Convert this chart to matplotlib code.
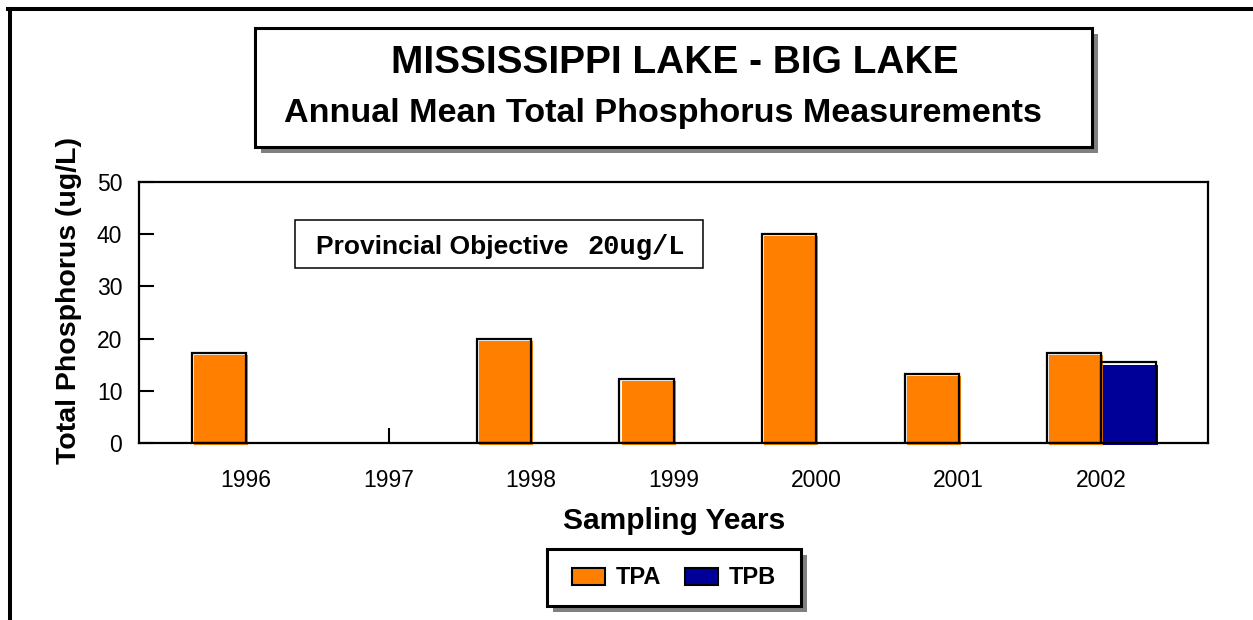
import numpy as np
import matplotlib
matplotlib.use("Agg")
import matplotlib.pyplot as plt
from matplotlib.patches import Rectangle, Patch
from matplotlib.lines import Line2D
from matplotlib.transforms import ScaledTranslation

plt.rcParams['font.family'] = ['Liberation Sans', 'DejaVu Sans']

# data
years = ['1996', '1997', '1998', '1999', '2000', '2001', '2002']
tpa = [17.2, np.nan, 20.0, 12.2, 40.0, 13.2, 17.2]
tpb = [np.nan, np.nan, np.nan, np.nan, np.nan, np.nan, 15.4]
series_names = ['TPA', 'TPB']

ORANGE = '#FF8000'
BLUE = '#000099'
SHADOW = '#808080'

W, H = 1253, 620

def fx(px):
    return px / W

def fy(py):
    return 1 - py / H

def box_with_shadow(x0, y0, x1, y1, lw, off=6, z=1):
    # pixel coords, top-left origin
    fig.add_artist(Rectangle((fx(x0 + off), fy(y1 + off)), (x1 - x0) / W, (y1 - y0) / H,
                             transform=fig.transFigure, fc=SHADOW, ec='none', zorder=z))
    fig.add_artist(Rectangle((fx(x0), fy(y1)), (x1 - x0) / W, (y1 - y0) / H,
                             transform=fig.transFigure, fc='white', ec='black', lw=lw,
                             zorder=z + 1))

fig = plt.figure(figsize=(W / 100, H / 100), dpi=100)
ax = fig.add_axes([fx(139), fy(442.7), (1208.3 - 139) / W, (442.7 - 182.3) / H])

x = np.arange(len(years))
bw = 0.38
# fill is slightly misregistered (right/down) from the outline, like the original
shift = ax.transData + ScaledTranslation(1.5 / 72, -1.5 / 72, fig.dpi_scale_trans)
for vals, off, col in [(tpa, -bw / 2, ORANGE), (tpb, bw / 2, BLUE)]:
    ax.bar(x + off, vals, bw, color=col, lw=0, transform=shift, clip_on=False, zorder=2)
    ax.bar(x + off, vals, bw, facecolor='none', edgecolor='black', lw=1.6, zorder=3)

ax.set_xlim(-0.75, 6.75)
ax.set_ylim(0, 50)
ax.set_yticks([0, 10, 20, 30, 40, 50])
ax.set_xticks(x, years)
ax.tick_params(axis='both', direction='in', length=11, width=1.5, labelsize=16.5)
ax.tick_params(axis='y', pad=12)
ax.tick_params(axis='x', pad=19)
for s in ax.spines.values():
    s.set_linewidth(1.6)

ax.set_xlabel('Sampling Years', fontsize=21.5, fontweight='bold', labelpad=11)
ax.set_ylabel('Total Phosphorus (ug/L)', fontsize=20.5, fontweight='bold')
ax.yaxis.set_label_coords((82 - 139) / 1069.3, (442.7 - 300) / 260.4)

# provincial objective box
ax.add_patch(Rectangle((0.1459, 0.6709), 0.3815, 0.1843, transform=ax.transAxes,
                       fc='white', ec='black', lw=1.1, zorder=4))
ax.text(0.1655, 0.7247, 'Provincial Objective', transform=ax.transAxes, fontsize=19,
        fontweight='bold', va='baseline', zorder=5)
ax.text(0.419, 0.7247, '20ug/L', transform=ax.transAxes, fontsize=19.5,
        family=['Liberation Mono', 'DejaVu Sans Mono'], fontweight='bold',
        va='baseline', zorder=5)

# outer border (top and left)
fig.add_artist(Line2D([fx(9.5), fx(9.5)], [0, fy(8.5)], color='black', lw=2.9,
                      transform=fig.transFigure))
fig.add_artist(Line2D([fx(7.5), 1], [fy(8.5), fy(8.5)], color='black', lw=2.9,
                      transform=fig.transFigure))

# title box with shadow
box_with_shadow(255, 28, 1092, 147, lw=2.2)
fig.text(fx(675), fy(73), 'MISSISSIPPI LAKE - BIG LAKE', fontsize=28, fontweight='bold',
         ha='center', va='baseline', zorder=3)
fig.text(fx(663), fy(122), 'Annual Mean Total Phosphorus Measurements', fontsize=24.6,
         fontweight='bold', ha='center', va='baseline', zorder=3)

# legend box with shadow, entries from a frameless legend
box_with_shadow(547, 549, 801, 606, lw=2.2, z=4)
handles = [Patch(fc=ORANGE, ec='black', lw=1.5, label=series_names[0]),
           Patch(fc=BLUE, ec='black', lw=1.5, label=series_names[1])]
leg = fig.legend(handles=handles, loc='center', bbox_to_anchor=(fx(674), fy(578)),
                 ncol=2, frameon=False, prop={'weight': 'bold', 'size': 17},
                 handlelength=1.4, handleheight=0.7, handletextpad=0.45,
                 columnspacing=1.0, borderpad=0.3)
leg.set_zorder(7)

fig.savefig('out.png', dpi=100)
